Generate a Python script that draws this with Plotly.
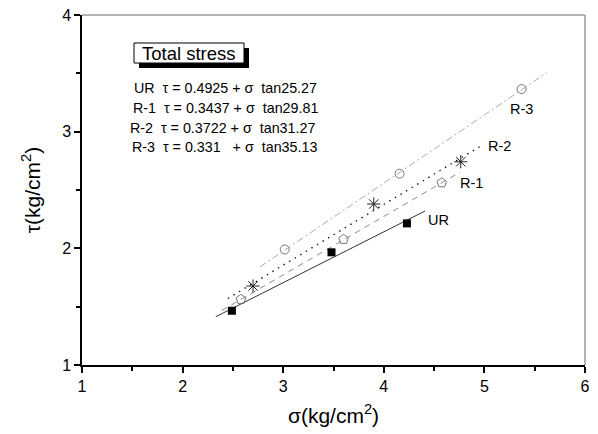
import plotly.graph_objects as go

# ---- data ----
ur_x = [2.49, 3.48, 4.23]
ur_y = [1.465, 1.966, 2.214]
r1_x = [2.58, 3.60, 4.576]
r1_y = [1.563, 2.077, 2.562]
r2_x = [2.70, 3.90, 4.765]
r2_y = [1.677, 2.38, 2.742]
r3_x = [3.015, 4.157, 5.37]
r3_y = [1.99, 2.64, 3.365]

# fitted line end points
ur_line_x = [2.33, 4.41]
ur_line_y = [1.414, 2.32]
r1_line_x = [2.39, 4.76]
r1_line_y = [1.467, 2.654]
r2_line_x = [2.45, 4.96]
r2_line_y = [1.57, 2.875]
r3_line_x = [2.77, 5.62]
r3_line_y = [1.841, 3.505]

series_names = ["UR", "R-1", "R-2", "R-3"]
equations = [
    "UR &nbsp;\u03c4 = 0.4925 + \u03c3 &nbsp;tan25.27",
    "R-1 &nbsp;\u03c4 = 0.3437 + \u03c3 &nbsp;tan29.81",
    "R-2 &nbsp;\u03c4 = 0.3722 + \u03c3 &nbsp;tan31.27",
    "R-3 &nbsp;\u03c4 = 0.331 &nbsp;&nbsp;+ \u03c3 &nbsp;tan35.13",
]
x_ticks = [1, 2, 3, 4, 5, 6]
y_ticks = [1, 2, 3, 4]

W, H = 598, 434
L, R, T, B = 82, 13, 15, 69
X0, X1, Y0, Y1 = 1, 6, 1, 4


def px2x(px):
    return X0 + (px - L) / (W - L - R) * (X1 - X0)


def px2y(py):
    return Y0 + (H - B - py) / (H - T - B) * (Y1 - Y0)


fig = go.Figure()

# lines
fig.add_trace(go.Scatter(x=ur_line_x, y=ur_line_y, mode="lines",
                         line=dict(color="#333333", width=1)))
fig.add_trace(go.Scatter(x=r1_line_x, y=r1_line_y, mode="lines",
                         line=dict(color="#8c8c8c", width=1, dash="6px,5px")))
fig.add_trace(go.Scatter(x=r2_line_x, y=r2_line_y, mode="lines",
                         line=dict(color="#111111", width=1.3, dash="1.5px,5px")))
fig.add_trace(go.Scatter(x=r3_line_x, y=r3_line_y, mode="lines",
                         line=dict(color="#aaaaaa", width=1, dash="7px,3px,2px,3px")))

# markers
fig.add_trace(go.Scatter(x=ur_x, y=ur_y, mode="markers",
                         marker=dict(symbol="square", size=8, color="black")))
fig.add_trace(go.Scatter(x=r1_x, y=r1_y, mode="markers",
                         marker=dict(symbol="pentagon-open", size=10, color="#777777",
                                     line=dict(width=1))))
fig.add_trace(go.Scatter(x=r2_x, y=r2_y, mode="markers",
                         marker=dict(symbol="asterisk-open", size=11, color="#222222",
                                     line=dict(width=1, color="#222222"))))
fig.add_trace(go.Scatter(x=r3_x, y=r3_y, mode="markers",
                         marker=dict(symbol="circle-open", size=9, color="#777777",
                                     line=dict(width=1))))

# series labels near line ends
label_pos = [(438, 220), (471, 183), (499, 146), (521, 109)]
for name, (lx, ly) in zip(series_names, label_pos):
    fig.add_annotation(x=px2x(lx), y=px2y(ly), text=name, showarrow=False,
                       font=dict(family="Arial, Liberation Sans", size=14.5, color="black"),
                       xanchor="center", yanchor="middle")

# equation block
eq_pos = [(133, 88), (132, 108), (129, 128), (131, 147)]
for txt, (ex, ey) in zip(equations, eq_pos):
    fig.add_annotation(x=px2x(ex), y=px2y(ey), text=txt, showarrow=False,
                       font=dict(family="Arial, Liberation Sans", size=14.3, color="black"),
                       xanchor="left", yanchor="middle", align="left", borderpad=0)

# "Total stress" box with shadow
shapes = [
    dict(type="rect", xref="x", yref="y", x0=px2x(139), x1=px2x(249),
         y0=px2y(68), y1=px2y(48), fillcolor="black", line=dict(width=0)),
    dict(type="rect", xref="x", yref="y", x0=px2x(134), x1=px2x(244),
         y0=px2y(63), y1=px2y(43), fillcolor="white", line=dict(color="black", width=1)),
    # gray top/right frame
    dict(type="line", xref="paper", yref="paper", x0=0, x1=1, y0=1, y1=1,
         line=dict(color="#999999", width=1.5), layer="below"),
    dict(type="line", xref="paper", yref="paper", x0=1, x1=1, y0=0, y1=1,
         line=dict(color="#999999", width=1.5), layer="below"),
]
fig.add_annotation(x=px2x(189), y=px2y(53), text="Total stress", showarrow=False,
                   font=dict(family="Arial, Liberation Sans", size=18.5, color="black"),
                   xanchor="center", yanchor="middle")

axis_font = dict(family="Arial, Liberation Sans", size=16, color="black")
fig.update_layout(
    width=W, height=H,
    margin=dict(l=L, r=R, t=T, b=B, autoexpand=False),
    paper_bgcolor="white", plot_bgcolor="white",
    showlegend=False,
    shapes=shapes,
    xaxis=dict(range=[X0, X1], tickvals=x_ticks, ticktext=[str(v) for v in x_ticks],
               automargin=False,
               showgrid=False, zeroline=False, showline=True, linecolor="black",
               linewidth=1.5, ticks="outside", ticklen=6, tickwidth=1.5, tickcolor="black",
               tickfont=axis_font,
               minor=dict(dtick=0.5, ticks="outside", ticklen=4, tickwidth=1.5,
                          tickcolor="black", showgrid=False),
               title=dict(text="\u03c3(kg/cm<sup>2</sup>)",
                          font=dict(family="Arial, Liberation Sans", size=21, color="black"),
                          standoff=14)),
    yaxis=dict(range=[Y0, Y1], tickvals=y_ticks, ticktext=[str(v) for v in y_ticks],
               automargin=False,
               showgrid=False, zeroline=False, showline=True, linecolor="black",
               linewidth=1.5, ticks="outside", ticklen=6, tickwidth=1.5, tickcolor="black",
               tickfont=axis_font,
               minor=dict(dtick=0.5, ticks="outside", ticklen=4, tickwidth=1.5,
                          tickcolor="black", showgrid=False),
               title=dict(text="\u03c4(kg/cm<sup>2</sup>)",
                          font=dict(family="Arial, Liberation Sans", size=21, color="black"),
                          standoff=16)),
)

fig.write_html("out.html")
